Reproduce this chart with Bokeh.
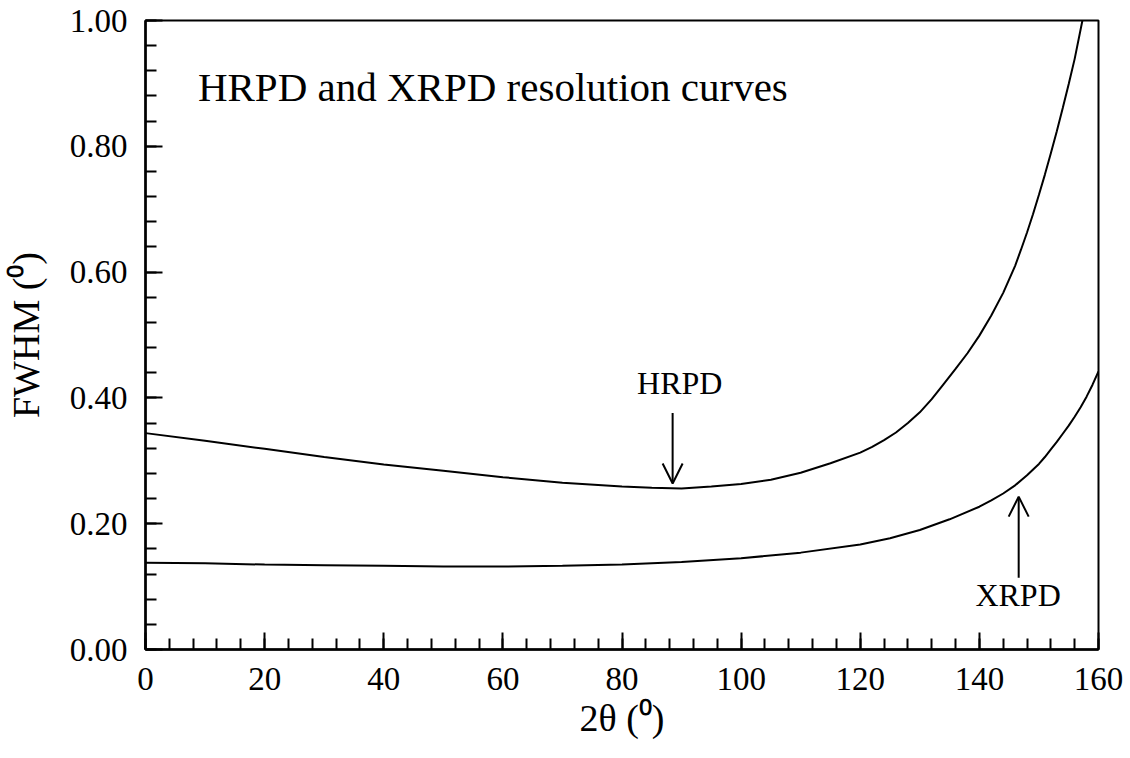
from bokeh.plotting import figure
from bokeh.models import Range1d, SingleIntervalTicker, FixedTicker, Label, Arrow, OpenHead, PrintfTickFormatter
from bokeh.embed import file_html
from bokeh.resources import INLINE

# ---- data ----
hrpd_x = [0, 10, 20, 30, 40, 50, 60, 70, 80, 85, 90, 95, 100, 105, 110, 115, 120, 122, 124,
          126, 128, 130, 132, 134, 136, 138, 140, 142, 144, 146, 147, 148, 149, 150, 151,
          152, 153, 154, 155, 156, 157.3]
hrpd_y = [0.344, 0.332, 0.319, 0.306, 0.294, 0.284, 0.274, 0.265, 0.259, 0.257, 0.256, 0.259,
          0.263, 0.270, 0.281, 0.296, 0.313, 0.322, 0.333, 0.345, 0.360, 0.377, 0.398, 0.422,
          0.446, 0.471, 0.499, 0.531, 0.567, 0.610, 0.636, 0.663, 0.692, 0.723, 0.755,
          0.789, 0.824, 0.861, 0.899, 0.939, 1.000]

xrpd_x = [0, 10, 20, 30, 40, 50, 60, 70, 80, 90, 100, 110, 120, 125, 130, 135, 140, 142, 144,
          146, 148, 150, 151, 152, 153, 154, 155, 156, 157, 158, 159, 160]
xrpd_y = [0.138, 0.137, 0.135, 0.134, 0.133, 0.132, 0.132, 0.133, 0.135, 0.139, 0.145, 0.154,
          0.167, 0.177, 0.190, 0.207, 0.227, 0.237, 0.248, 0.261, 0.277, 0.295, 0.306, 0.318,
          0.330, 0.343, 0.356, 0.370, 0.385, 0.402, 0.421, 0.442]

y_ticks = [0.0, 0.2, 0.4, 0.6, 0.8, 1.0]
title_text = "HRPD and XRPD resolution curves"
x_label = "2θ (⁰)"
y_label = "FWHM (⁰)"

# annotation anchors (data coords)
hrpd_label = (89.7, 0.423)
hrpd_arrow = (88.5, 0.376, 0.264)
xrpd_label = (146.5, 0.086)
xrpd_arrow = (146.6, 0.114, 0.243)
title_pos = (8.8, 0.895)

FONT = "Liberation Serif"

p = figure(width=1130, height=758, x_range=Range1d(0, 160), y_range=Range1d(0, 1),
           output_backend="svg", toolbar_location=None,
           min_border_left=145, min_border_right=32, min_border_top=20, min_border_bottom=109)

p.background_fill_color = "white"
p.border_fill_color = "white"
p.outline_line_color = "black"
p.outline_line_width = 2
p.xgrid.visible = False
p.ygrid.visible = False

p.line(hrpd_x, hrpd_y, line_color="black", line_width=2)
p.line(xrpd_x, xrpd_y, line_color="black", line_width=2)

# axes
p.xaxis.ticker = SingleIntervalTicker(interval=20, num_minor_ticks=5)
p.yaxis.ticker = FixedTicker(ticks=y_ticks, minor_ticks=[round(0.04 * i, 2) for i in range(26)])
p.yaxis.formatter = PrintfTickFormatter(format="%.2f")

for ax in (p.xaxis[0], p.yaxis[0]):
    ax.axis_line_color = "black"
    ax.axis_line_width = 2.5
    ax.major_tick_in = 17
    ax.major_tick_out = 0
    ax.minor_tick_in = 11
    ax.minor_tick_out = 0
    ax.major_tick_line_width = 2
    ax.minor_tick_line_width = 2
    ax.major_tick_line_color = "black"
    ax.minor_tick_line_color = "black"
    ax.major_label_text_font = FONT
    ax.major_label_text_font_size = "33px"
    ax.major_label_text_color = "black"
    ax.axis_label_text_font = FONT
    ax.axis_label_text_font_size = "38px"
    ax.axis_label_text_font_style = "normal"
    ax.axis_label_text_color = "black"

p.xaxis.axis_label = x_label
p.yaxis.axis_label = y_label
p.xaxis.major_label_standoff = 18
p.xaxis.axis_label_standoff = 4
p.yaxis.major_label_standoff = 18
p.yaxis.axis_label_standoff = 20

# title inside plot
p.add_layout(Label(x=title_pos[0], y=title_pos[1], text=title_text, text_font=FONT,
                   text_font_size="41px", text_align="left", text_baseline="alphabetic",
                   text_color="black"))

# HRPD annotation
p.add_layout(Label(x=hrpd_label[0], y=hrpd_label[1], text="HRPD", text_font=FONT,
                   text_font_size="32px", text_align="center", text_baseline="alphabetic",
                   text_color="black"))
p.add_layout(Arrow(end=OpenHead(size=20, line_width=2, line_color="black"),
                   x_start=hrpd_arrow[0], y_start=hrpd_arrow[1],
                   x_end=hrpd_arrow[0], y_end=hrpd_arrow[2],
                   line_width=2, line_color="black"))

# XRPD annotation
p.add_layout(Label(x=xrpd_label[0], y=xrpd_label[1], text="XRPD", text_font=FONT,
                   text_font_size="32px", text_align="center", text_baseline="alphabetic",
                   text_color="black"))
p.add_layout(Arrow(end=OpenHead(size=20, line_width=2, line_color="black"),
                   x_start=xrpd_arrow[0], y_start=xrpd_arrow[1],
                   x_end=xrpd_arrow[0], y_end=xrpd_arrow[2],
                   line_width=2, line_color="black"))

open("out.html", "w").write(file_html(p, INLINE))
